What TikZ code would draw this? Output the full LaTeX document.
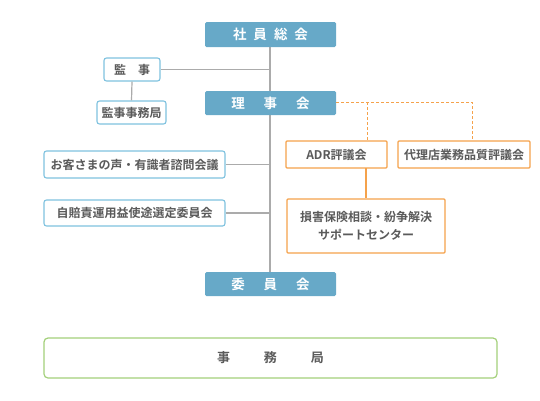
\documentclass[tikz,border=0pt]{standalone}
\usepackage{fontspec}
\setmainfont{Noto Sans CJK JP}[BoldFont={* Bold}]
\definecolor{hdblue}{HTML}{67A9C8}
\definecolor{ltblue}{HTML}{7FC2DF}
\definecolor{org}{HTML}{F5A24B}
\definecolor{grn}{HTML}{A3D07A}
\definecolor{lgray}{HTML}{ABABAB}
\definecolor{txt}{HTML}{5A5A5A}
\tikzset{
  head/.style={fill=hdblue, draw=none, rounded corners=1.5pt, inner sep=0pt, text=white, font=\bfseries\fontsize{13.5}{15}\selectfont},
  bluebox/.style={draw=ltblue, line width=1.1pt, fill=white, rounded corners=2.5pt, inner sep=0pt, text=txt, font=\bfseries\fontsize{12}{14}\selectfont},
  orgbox/.style={draw=org, line width=1.2pt, fill=white, rounded corners=1pt, inner sep=0pt, text=txt, font=\bfseries\fontsize{12}{14}\selectfont, align=center},
  grnbox/.style={draw=grn, line width=1.2pt, fill=white, rounded corners=4pt, inner sep=0pt, text=txt, font=\bfseries\fontsize{13}{15}\selectfont},
  gline/.style={draw=lgray, line width=1.2pt},
  oline/.style={draw=org, line width=1.2pt},
  odash/.style={draw=org, line width=0.8pt, dash pattern=on 3pt off 2pt},
}
\begin{document}
\begin{tikzpicture}[x=1pt,y=-1pt]
\useasboundingbox (0,0) rectangle (540,400);
% main vertical
\coordinate (vtop) at (270,47);
\coordinate (vbot) at (270,272);
\draw[gline] (vtop) -- (vbot);
% nodes
\node[head, minimum width=131pt, minimum height=25pt] (sha) at (270.5,34.5) {社\hspace{7pt}員\hspace{7pt}総\hspace{7pt}会};
\node[head, minimum width=131pt, minimum height=24pt] (rij) at (270.5,103) {理\hspace{19pt}事\hspace{19pt}会};
\node[head, minimum width=131pt, minimum height=24pt] (iin) at (270.5,284) {委\hspace{19pt}員\hspace{19pt}会};
\node[bluebox, minimum width=56pt, minimum height=23pt] (kan) at (132,69.5) {監\hspace{12pt}事};
\node[bluebox, minimum width=69pt, minimum height=23pt] (kjm) at (131.5,112.5) {監事事務局};
\node[bluebox, minimum width=181pt, minimum height=27pt] (okk) at (134.5,164.5) {お客さまの声・有識者諮問会議};
\node[bluebox, minimum width=181pt, minimum height=26pt] (jib) at (134.5,213) {自賠責運用益使途選定委員会};
\node[orgbox, minimum width=101pt, minimum height=27pt] (adr) at (336.5,154.5) {ADR評議会};
\node[orgbox, minimum width=132pt, minimum height=27pt] (dai) at (464,154.5) {代理店業務品質評議会};
\node[orgbox, minimum width=158pt, minimum height=54pt] (son) at (366,226) {損害保険相談・紛争解決\\[4pt]サポートセンター};
\node[grnbox, minimum width=453pt, minimum height=40pt] (jim) at (270.5,358) {事\hspace{34pt}務\hspace{34pt}局};
% connectors
\coordinate (k1) at (270,69.5);
\draw[gline] (kan.east) -- (k1);
\draw[gline] (kan.south) -- (kjm.north);
\coordinate (o1) at (270,164.5);
\draw[gline] (okk.east) -- (o1);
\coordinate (j1) at (270,213);
\draw[gline] (jib.east) -- (j1);
\coordinate (d0) at (367,102);
\coordinate (d1) at (472,102);
\coordinate (adrtop) at (367,141);
\coordinate (daitop) at (472,141);
\draw[odash] (rij.east |- d0) -- (d1) -- (daitop);
\draw[odash] (d0) -- (adrtop);
\coordinate (adrbot) at (366,168);
\draw[oline] (adrbot) -- (son.north);
\end{tikzpicture}
\end{document}
